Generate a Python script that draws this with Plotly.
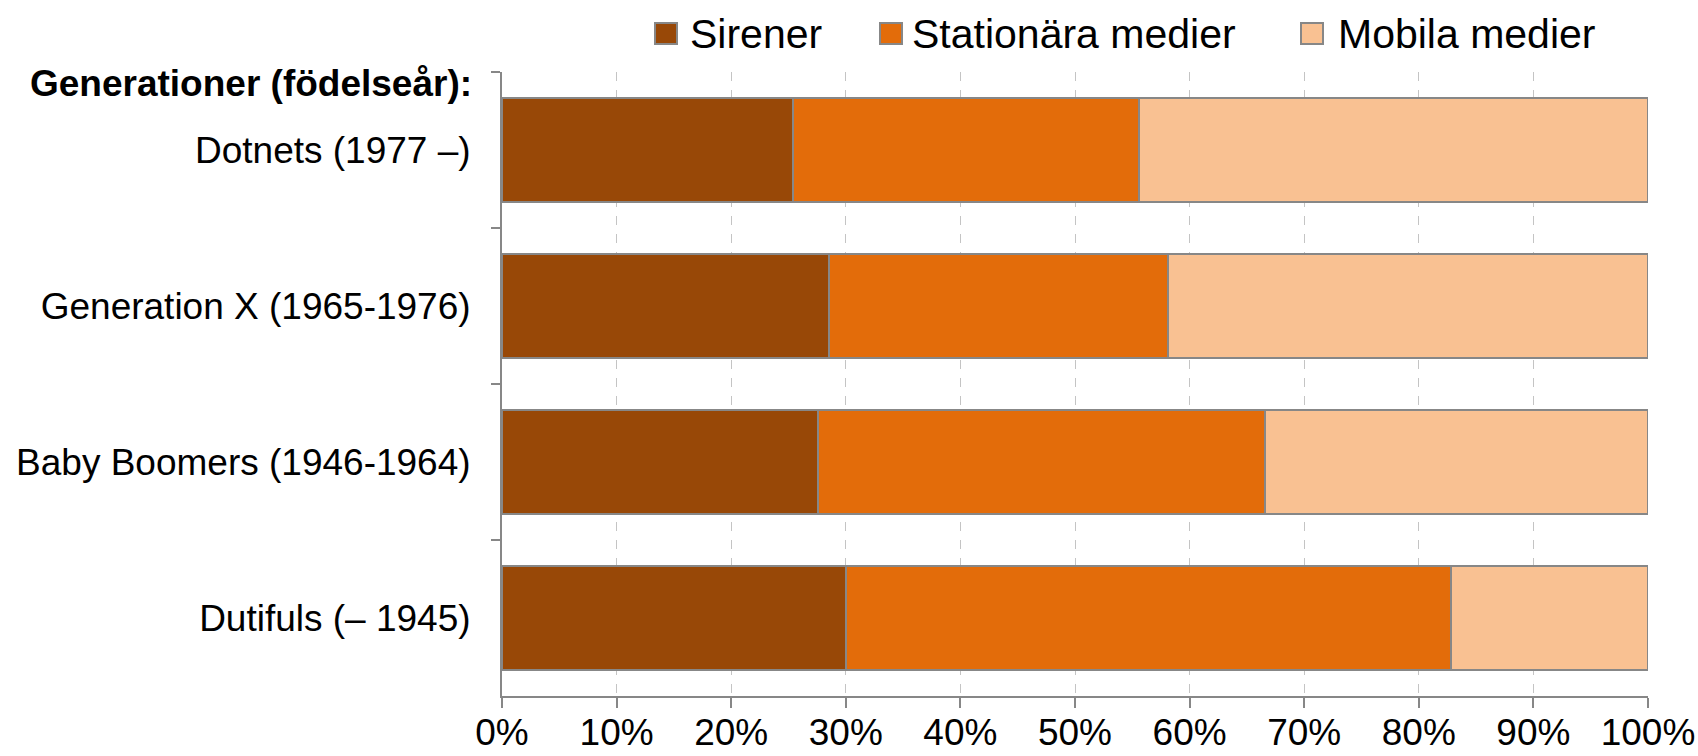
import plotly.graph_objects as go

categories = ["Dotnets (1977 –)", "Generation X (1965-1976)", "Baby Boomers (1946-1964)", "Dutifuls (– 1945)"]
sirener = [25.4, 28.5, 27.6, 30.0]
stationara = [30.2, 29.6, 39.0, 52.8]
mobila = [44.4, 41.9, 33.4, 17.2]
series_names = ["Sirener", "Stationära medier", "Mobila medier"]
colors = ["#984807", "#E36C0A", "#F9C192"]
xticks = [0, 10, 20, 30, 40, 50, 60, 70, 80, 90, 100]
xticklabels = [f"{v}%" for v in xticks]

FONT = "Liberation Sans, Arial, sans-serif"
W, H = 1698, 756
L, R, T, B = 502, 50, 72, 60
PW, PH = W - L - R, H - T - B


def px_x(x):
    return (x - L) / PW


def px_y(y):
    return 1 - (y - T) / PH


fig = go.Figure()
for name, vals, col in zip(series_names, [sirener, stationara, mobila], colors):
    fig.add_trace(go.Bar(
        y=categories, x=vals, name=name, orientation="h",
        marker=dict(color=col, line=dict(color="#878787", width=2)),
        showlegend=False,
    ))

fig.update_layout(
    barmode="stack",
    bargap=0.333,
    width=W, height=H,
    margin=dict(l=L, r=R, t=T, b=B, autoexpand=False),
    paper_bgcolor="white", plot_bgcolor="white",
    font=dict(family=FONT, size=37, color="black"),
    showlegend=False,
)
fig.update_xaxes(
    range=[0, 100], tickvals=xticks, ticktext=xticklabels,
    showgrid=True, gridcolor="#c4c4c4", griddash="dash", gridwidth=1,
    showline=True, linecolor="#878787", linewidth=2,
    ticks="outside", ticklen=10, tickcolor="#878787", tickwidth=2,
    tickfont=dict(size=37, family=FONT), ticklabelstandoff=-7,
    zeroline=False, automargin=False,
)
fig.update_yaxes(
    autorange="reversed", type="category",
    showline=True, linecolor="#878787", linewidth=2,
    ticks="outside", ticklen=9, tickcolor="#878787", tickwidth=2,
    tickson="boundaries", showgrid=False,
    tickfont=dict(size=37, family=FONT), ticklabelstandoff=22,
    automargin=False,
)
fig.add_annotation(
    text="<b>Generationer (födelseår):</b>", xref="paper", yref="paper",
    x=px_x(474), y=px_y(83), xanchor="right", yanchor="middle",
    showarrow=False, font=dict(size=37, family=FONT, color="black"),
)

# manual legend (larger squares than plotly's built-in legend allows)
legend_sq_x = [655, 880, 1301]
legend_txt_x = [688, 910, 1336]
for name, col, sx, tx in zip(series_names, colors, legend_sq_x, legend_txt_x):
    fig.add_shape(
        type="rect", xref="paper", yref="paper",
        x0=px_x(sx), x1=px_x(sx + 22), y0=px_y(44), y1=px_y(23),
        fillcolor=col, line=dict(color="#878787", width=2),
    )
    fig.add_annotation(
        text=name, xref="paper", yref="paper",
        x=px_x(tx), y=px_y(34), xanchor="left", yanchor="middle",
        showarrow=False, font=dict(size=41, family=FONT, color="black"),
    )

fig.write_html("out.html", config={"displayModeBar": False},
               post_script="document.body.style.margin='0';")
